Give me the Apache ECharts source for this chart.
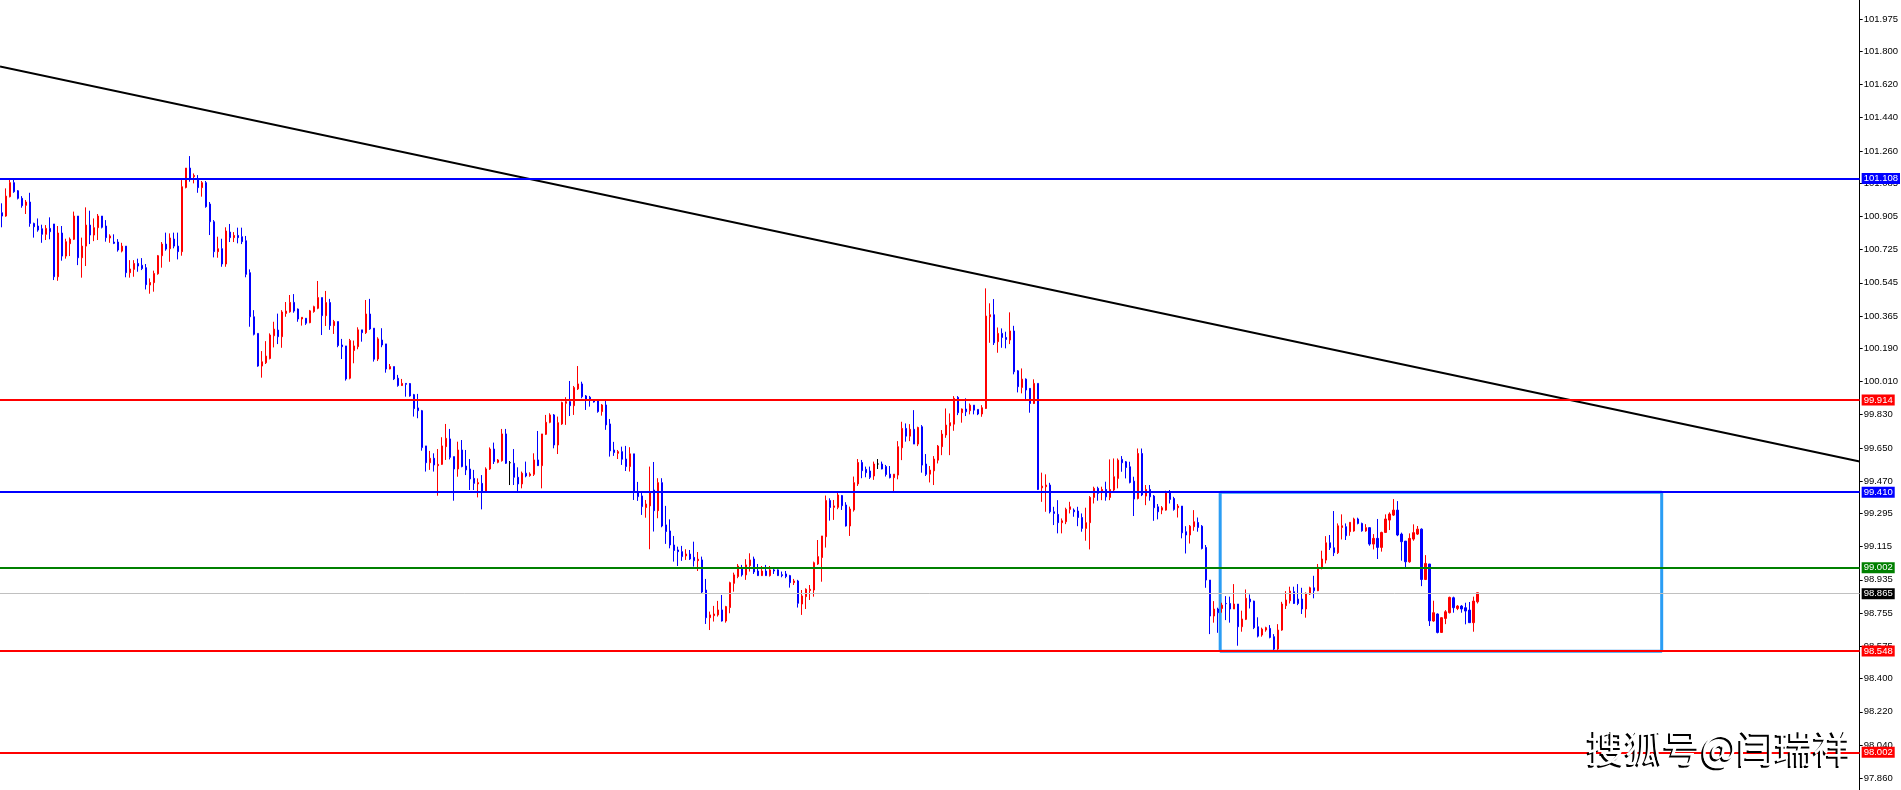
<!DOCTYPE html>
<html><head><meta charset="utf-8">
<script src="https://cdn.jsdelivr.net/npm/echarts@6/dist/echarts.min.js"></script>
<style>html,body{margin:0;padding:0;background:#fff;}#c{width:1901px;height:790px;}</style>
</head><body><div id="c"></div>
<script>
// ---- data (price values) ----
const opens=[
100.925,100.907,101.012,101.088,101.044,101.003,100.965,100.983,100.867,100.853,
100.838,100.808,100.840,100.864,100.578,100.815,100.690,100.757,100.781,100.907,
100.681,100.744,100.858,100.804,100.844,100.907,100.853,100.788,100.766,100.766,
100.717,100.744,100.600,100.618,100.650,100.640,100.627,100.533,100.546,100.594,
100.692,100.755,100.730,100.782,100.744,100.714,101.062,101.167,101.120,101.108,
101.061,101.088,100.972,100.876,100.714,100.730,100.647,100.820,100.790,100.802,
100.795,100.773,100.600,100.361,100.271,100.094,100.112,100.135,100.258,100.289,
100.253,100.379,100.388,100.439,100.403,100.349,100.353,100.329,100.389,100.407,
100.465,100.367,100.438,100.313,100.335,100.208,100.203,100.028,100.178,100.199,
100.290,100.275,100.376,100.299,100.132,100.235,100.214,100.078,100.091,100.028,
99.988,100.000,99.999,99.939,99.867,99.852,99.661,99.570,99.594,99.554,
99.561,99.657,99.699,99.603,99.536,99.639,99.552,99.536,99.485,99.455,
99.458,99.413,99.536,99.644,99.572,99.581,99.726,99.570,99.567,99.491,
99.455,99.513,99.500,99.507,99.585,99.554,99.724,99.789,99.829,99.666,
99.780,99.892,99.901,99.879,99.970,99.997,99.932,99.925,99.907,99.907,
99.847,99.883,99.780,99.639,99.621,99.630,99.590,99.549,99.618,99.413,
99.390,99.327,99.336,99.422,99.310,99.462,99.233,99.200,99.124,99.097,
99.088,99.065,99.075,99.057,99.039,99.043,98.880,98.730,98.741,98.745,
98.772,98.712,98.785,98.916,98.953,99.001,98.962,99.012,99.048,98.983,
98.958,98.983,98.958,98.989,98.989,98.963,98.967,98.958,98.920,98.929,
98.804,98.844,98.877,98.880,99.021,99.056,99.169,99.365,99.328,99.328,
99.392,99.341,99.227,99.314,99.455,99.571,99.534,99.525,99.498,99.563,
99.563,99.549,99.508,99.489,99.503,99.651,99.756,99.714,99.751,99.671,
99.765,99.563,99.508,99.526,99.584,99.657,99.720,99.770,99.779,99.924,
99.841,99.861,99.852,99.882,99.859,99.834,99.864,100.361,100.372,100.226,
100.271,100.249,100.235,100.284,100.068,99.978,100.023,99.973,99.891,100.000,
99.434,99.440,99.449,99.304,99.290,99.245,99.250,99.317,99.313,99.308,
99.273,99.214,99.245,99.382,99.431,99.413,99.425,99.382,99.422,99.485,
99.588,99.575,99.548,99.470,99.376,99.620,99.389,99.425,99.389,99.331,
99.313,99.313,99.407,99.376,99.326,99.335,99.196,99.178,99.223,99.246,
99.226,99.111,98.934,98.739,98.777,98.780,98.807,98.807,98.777,98.804,
98.681,98.721,98.831,98.820,98.681,98.636,98.663,98.672,98.627,98.560,
98.663,98.795,98.822,98.871,98.831,98.831,98.777,98.858,98.892,98.876,
99.003,99.042,99.136,99.109,99.082,99.219,99.223,99.196,99.200,99.265,
99.241,99.200,99.218,99.129,99.160,99.111,99.192,99.259,99.286,99.313,
99.183,99.145,99.033,99.156,99.183,99.210,98.937,99.021,98.712,98.750,
98.650,98.726,98.757,98.838,98.780,98.793,98.784,98.771,98.703,98.816];
const closes=[
100.907,101.015,101.088,101.039,101.003,100.963,100.983,100.867,100.849,100.831,
100.808,100.840,100.822,100.578,100.815,100.690,100.768,100.782,100.907,100.681,
100.744,100.858,100.804,100.844,100.907,100.846,100.790,100.799,100.759,100.723,
100.744,100.600,100.620,100.650,100.636,100.622,100.535,100.547,100.596,100.692,
100.755,100.728,100.788,100.744,100.714,101.066,101.167,101.108,101.127,101.061,
101.088,100.958,100.876,100.714,100.730,100.647,100.826,100.790,100.802,100.790,
100.768,100.591,100.361,100.266,100.094,100.117,100.148,100.262,100.294,100.253,
100.387,100.392,100.439,100.392,100.349,100.358,100.326,100.393,100.416,100.465,
100.367,100.438,100.313,100.335,100.205,100.199,100.024,100.232,100.203,100.290,
100.275,100.376,100.295,100.131,100.241,100.208,100.078,100.091,100.024,99.988,
100.000,99.995,99.932,99.863,99.852,99.652,99.570,99.594,99.558,99.561,
99.661,99.702,99.599,99.536,99.639,99.549,99.531,99.482,99.458,99.462,
99.413,99.536,99.644,99.576,99.585,99.726,99.567,99.570,99.491,99.455,
99.513,99.498,99.509,99.585,99.554,99.726,99.789,99.829,99.666,99.787,
99.896,99.901,99.879,99.977,99.997,99.928,99.914,99.910,99.899,99.847,
99.883,99.775,99.634,99.625,99.630,99.589,99.549,99.618,99.413,99.386,
99.332,99.346,99.410,99.310,99.462,99.227,99.197,99.124,99.094,99.088,
99.061,99.075,99.048,99.039,99.047,98.869,98.730,98.745,98.750,98.772,
98.712,98.790,98.920,98.962,99.010,98.962,99.016,99.043,98.978,98.958,
98.983,98.958,98.989,98.983,98.958,98.958,98.953,98.920,98.929,98.808,
98.848,98.884,98.884,99.028,99.061,99.173,99.365,99.327,99.336,99.395,
99.337,99.227,99.319,99.462,99.571,99.527,99.516,99.491,99.563,99.563,
99.536,99.506,99.489,99.508,99.657,99.756,99.714,99.751,99.671,99.761,
99.557,99.507,99.530,99.590,99.660,99.725,99.774,99.787,99.919,99.841,
99.861,99.846,99.882,99.855,99.834,99.868,100.365,100.372,100.220,100.271,
100.249,100.238,100.284,100.063,99.982,100.023,99.964,99.891,100.000,99.425,
99.443,99.449,99.304,99.295,99.245,99.255,99.317,99.331,99.304,99.273,
99.214,99.245,99.382,99.431,99.404,99.425,99.385,99.425,99.494,99.584,
99.570,99.544,99.463,99.373,99.620,99.395,99.425,99.385,99.326,99.304,
99.326,99.407,99.371,99.317,99.335,99.190,99.178,99.226,99.250,99.219,
99.105,98.934,98.739,98.777,98.757,98.798,98.806,98.777,98.804,98.681,
98.723,98.835,98.816,98.676,98.630,98.668,98.676,98.623,98.560,98.663,
98.804,98.826,98.874,98.807,98.807,98.777,98.862,98.892,98.876,99.003,
99.048,99.136,99.109,99.082,99.228,99.228,99.174,99.247,99.265,99.241,
99.201,99.218,99.129,99.160,99.111,99.192,99.265,99.292,99.313,99.178,
99.142,99.033,99.160,99.191,99.210,98.937,99.024,98.713,98.757,98.650,
98.730,98.762,98.840,98.784,98.793,98.777,98.766,98.703,98.820,98.865];
const lows=[
100.846,100.903,101.008,101.033,100.997,100.952,100.918,100.849,100.790,100.822,
100.762,100.777,100.781,100.560,100.556,100.665,100.676,100.690,100.777,100.641,
100.573,100.636,100.755,100.771,100.777,100.840,100.768,100.762,100.755,100.714,
100.710,100.575,100.573,100.578,100.605,100.614,100.509,100.486,100.497,100.589,
100.627,100.719,100.659,100.732,100.672,100.692,101.057,101.093,101.084,101.033,
101.012,100.952,100.804,100.683,100.681,100.632,100.632,100.766,100.766,100.759,
100.755,100.575,100.307,100.260,100.090,100.031,100.105,100.130,100.195,100.213,
100.193,100.361,100.383,100.383,100.334,100.313,100.317,100.326,100.383,100.402,
100.262,100.311,100.290,100.268,100.196,100.132,100.015,100.022,100.109,100.185,
100.226,100.268,100.290,100.118,100.121,100.196,100.058,100.076,100.018,99.982,
99.986,99.928,99.928,99.820,99.811,99.635,99.522,99.531,99.522,99.391,
99.558,99.585,99.588,99.364,99.494,99.545,99.503,99.422,99.422,99.382,
99.317,99.413,99.531,99.563,99.567,99.576,99.563,99.449,99.449,99.413,
99.431,99.491,99.494,99.498,99.552,99.431,99.720,99.784,99.648,99.617,
99.775,99.775,99.823,99.829,99.964,99.919,99.856,99.874,99.896,99.841,
99.825,99.748,99.603,99.607,99.590,99.558,99.525,99.522,99.368,99.363,
99.287,99.272,99.101,99.197,99.269,99.220,99.130,99.106,99.034,99.010,
99.038,99.043,99.043,99.007,98.983,98.862,98.696,98.663,98.709,98.736,
98.709,98.703,98.754,98.871,98.944,98.953,98.935,98.980,98.967,98.956,
98.956,98.956,98.953,98.967,98.956,98.949,98.944,98.893,98.907,98.785,
98.745,98.777,98.826,98.844,99.016,98.925,99.110,99.256,99.260,99.318,
99.314,99.224,99.173,99.305,99.444,99.486,99.491,99.482,99.477,99.536,
99.534,99.495,99.485,99.416,99.480,99.584,99.684,99.687,99.671,99.660,
99.516,99.498,99.463,99.449,99.566,99.611,99.705,99.611,99.743,99.828,
99.787,99.823,99.832,99.832,99.828,99.819,99.861,100.220,100.208,100.166,
100.193,100.190,100.213,100.049,99.951,99.946,99.906,99.841,99.888,99.422,
99.358,99.304,99.295,99.232,99.187,99.187,99.237,99.295,99.277,99.226,
99.196,99.147,99.100,99.349,99.364,99.367,99.364,99.367,99.413,99.431,
99.521,99.485,99.458,99.281,99.371,99.389,99.340,99.364,99.255,99.263,
99.291,99.310,99.349,99.310,99.273,99.160,99.078,99.132,99.201,99.196,
99.100,98.892,98.641,98.703,98.648,98.757,98.717,98.703,98.777,98.578,
98.654,98.717,98.780,98.668,98.623,98.627,98.654,98.618,98.554,98.554,
98.659,98.777,98.807,98.804,98.798,98.750,98.730,98.853,98.835,98.874,
98.992,99.024,99.097,99.064,99.075,99.154,99.151,99.174,99.196,99.236,
99.196,99.196,99.120,99.100,99.048,99.088,99.190,99.205,99.281,99.172,
99.039,99.003,99.028,99.147,99.178,98.901,98.934,98.685,98.708,98.645,
98.648,98.695,98.753,98.757,98.771,98.757,98.694,98.703,98.654,98.807];
const highs=[
100.976,101.057,101.106,101.106,101.048,101.015,100.994,101.033,100.871,100.894,
100.860,100.858,100.900,100.864,100.853,100.853,100.784,100.791,100.931,100.907,
100.790,100.954,100.936,100.894,100.918,100.907,100.885,100.808,100.808,100.782,
100.762,100.744,100.668,100.668,100.676,100.679,100.647,100.569,100.611,100.696,
100.766,100.817,100.813,100.817,100.817,101.102,101.167,101.232,101.138,101.129,
101.097,101.097,100.983,100.885,100.795,100.784,100.846,100.864,100.820,100.844,
100.844,100.799,100.618,100.397,100.271,100.175,100.229,100.271,100.334,100.378,
100.397,100.441,100.479,100.484,100.406,100.358,100.353,100.398,100.421,100.555,
100.465,100.501,100.458,100.344,100.335,100.241,100.203,100.241,100.232,100.304,
100.290,100.452,100.458,100.299,100.250,100.299,100.214,100.105,100.091,100.046,
100.024,100.000,100.002,99.943,99.943,99.856,99.661,99.634,99.621,99.644,
99.708,99.780,99.753,99.603,99.684,99.693,99.639,99.590,99.531,99.485,
99.503,99.545,99.653,99.679,99.590,99.753,99.753,99.579,99.644,99.545,
99.522,99.576,99.518,99.621,99.742,99.726,99.829,99.838,99.834,99.820,
99.901,99.925,100.013,99.986,100.094,100.009,99.937,99.932,99.910,99.910,
99.888,99.910,99.807,99.683,99.639,99.657,99.661,99.654,99.618,99.466,
99.408,99.368,99.549,99.574,99.486,99.486,99.336,99.263,99.173,99.115,
99.119,99.101,99.097,99.142,99.086,99.061,98.940,98.763,98.794,98.821,
98.853,98.794,98.925,98.974,99.021,99.016,99.047,99.079,99.061,99.021,
99.010,99.016,99.010,98.998,98.992,98.980,98.983,98.962,98.940,98.935,
98.880,98.889,98.907,99.034,99.151,99.173,99.392,99.377,99.368,99.408,
99.395,99.356,99.332,99.495,99.590,99.585,99.549,99.549,99.576,99.590,
99.576,99.558,99.552,99.508,99.687,99.792,99.783,99.779,99.855,99.765,
99.774,99.617,99.552,99.606,99.666,99.747,99.864,99.837,99.931,99.931,
99.864,99.919,99.891,99.882,99.859,99.882,100.515,100.434,100.457,100.303,
100.298,100.280,100.385,100.312,100.072,100.081,100.027,99.973,100.022,100.000,
99.516,99.507,99.461,99.331,99.367,99.268,99.326,99.358,99.322,99.331,
99.295,99.326,99.389,99.440,99.440,99.440,99.467,99.588,99.593,99.593,
99.606,99.579,99.575,99.494,99.647,99.647,99.449,99.449,99.395,99.346,
99.335,99.418,99.422,99.385,99.346,99.335,99.226,99.232,99.313,99.273,
99.232,99.124,98.934,98.820,98.784,98.811,98.847,98.844,98.912,98.804,
98.768,98.883,98.856,98.822,98.732,98.676,98.681,98.690,98.641,98.695,
98.816,98.874,98.898,98.898,98.912,98.892,98.867,98.898,98.957,99.021,
99.093,99.172,99.178,99.308,99.241,99.290,99.241,99.247,99.272,99.272,
99.245,99.237,99.219,99.183,99.265,99.196,99.290,99.301,99.373,99.362,
99.191,99.145,99.187,99.236,99.227,99.214,99.069,99.021,98.822,98.753,
98.732,98.771,98.844,98.844,98.798,98.798,98.811,98.815,98.844,98.865];

// y-axis tick labels shown on the right scale
const tickLabels=[101.975,101.800,101.620,101.440,101.260,101.085,100.905,100.725,100.545,100.365,
100.190,100.010,99.830,99.650,99.470,99.295,99.115,98.935,98.755,98.575,98.400,98.220,98.040,97.860];
// horizontal price levels
const levelValues=[101.108,99.914,99.410,99.002,98.865,98.548,98.002];
// trend line anchors [slot index, price]
const trendLine=[[-0.5,101.718],[464.5,99.577]];
// box: slot range and price range
const boxSlots=[304.6,415.0];
const boxPrices=[98.548,99.410];
const slotCount=465;
const watermark='搜狐号@闫瑞祥';

// ---- styles ----
const levelColors=['#0000ff','#ff0000','#0000ff','#008000','#c0c0c0','#ff0000','#ff0000'];
const levelTagBg=['#0000ff','#ff0000','#0000ff','#008000','#000000','#ff0000','#ff0000'];
const levelWidths=[2,2,2,2,1,2,2];

const categories=[];
for(let i=0;i<slotCount;i++) categories.push(String(i));
const candles=opens.map((o,i)=>[o,closes[i],lows[i],highs[i]]);
const boxPath=[[boxSlots[0],boxPrices[1]],[boxSlots[1],boxPrices[1]],[boxSlots[1],boxPrices[0]],[boxSlots[0],boxPrices[0]],[boxSlots[0],boxPrices[1]]];

const wmFont='38px "Noto Sans CJK SC", sans-serif';
const chart=echarts.init(document.getElementById('c'),null,{renderer:'canvas'});
chart.setOption({
  animation:false,
  backgroundColor:'#ffffff',
  grid:{left:0,right:40,top:0,bottom:0,containLabel:false},
  xAxis:[
    {type:'category',data:categories,boundaryGap:true,show:false},
    {type:'value',min:-0.5,max:slotCount-0.5,show:false}
  ],
  yAxis:{
    type:'value',position:'right',min:97.796,max:102.078,
    splitLine:{show:false},
    axisLine:{show:true,onZero:false,lineStyle:{color:'#000',width:1}},
    axisTick:{show:true,customValues:tickLabels,length:3,inside:false,lineStyle:{color:'#000',width:1}},
    axisLabel:{customValues:tickLabels,formatter:v=>Number(v).toFixed(3),fontSize:9.5,color:'#000',
      fontFamily:'"Liberation Sans", Arial, sans-serif',margin:4}
  },
  series:[
    {
      type:'line',xAxisIndex:1,data:boxPath,symbol:'none',silent:true,z:1,
      lineStyle:{color:'#2a9df4',width:3}
    },
    {
      type:'candlestick',xAxisIndex:0,data:candles,barWidth:2,z:3,silent:true,
      itemStyle:{color:'#ff0000',color0:'#0000ff',borderColor:'#ff0000',borderColor0:'#0000ff',
        borderColorDoji:'#000000',borderWidth:1},
      markLine:{
        symbol:'none',silent:true,animation:false,
        data:levelValues.map((v,i)=>({
          yAxis:v,
          lineStyle:{color:levelColors[i],width:levelWidths[i],type:'solid'},
          label:{show:true,position:'end',distance:2,formatter:()=>v.toFixed(3),color:'#fff',
            backgroundColor:levelTagBg[i],padding:[1,2,0,2],fontSize:9.5,
            fontFamily:'"Liberation Sans", Arial, sans-serif'}
        }))
      }
    },
    {
      type:'line',xAxisIndex:1,data:trendLine,symbol:'none',silent:true,z:4,
      lineStyle:{color:'#000',width:2}
    }
  ],
  graphic:[
    {type:'text',x:1585,y:750,z:100,silent:true,
      style:{text:watermark,fill:'#000000',font:wmFont,align:'left',verticalAlign:'middle'}},
    {type:'text',x:1587,y:748,z:101,silent:true,
      style:{text:watermark,fill:'#ffffff',font:wmFont,align:'left',verticalAlign:'middle'}}
  ]
});
</script></body></html>
